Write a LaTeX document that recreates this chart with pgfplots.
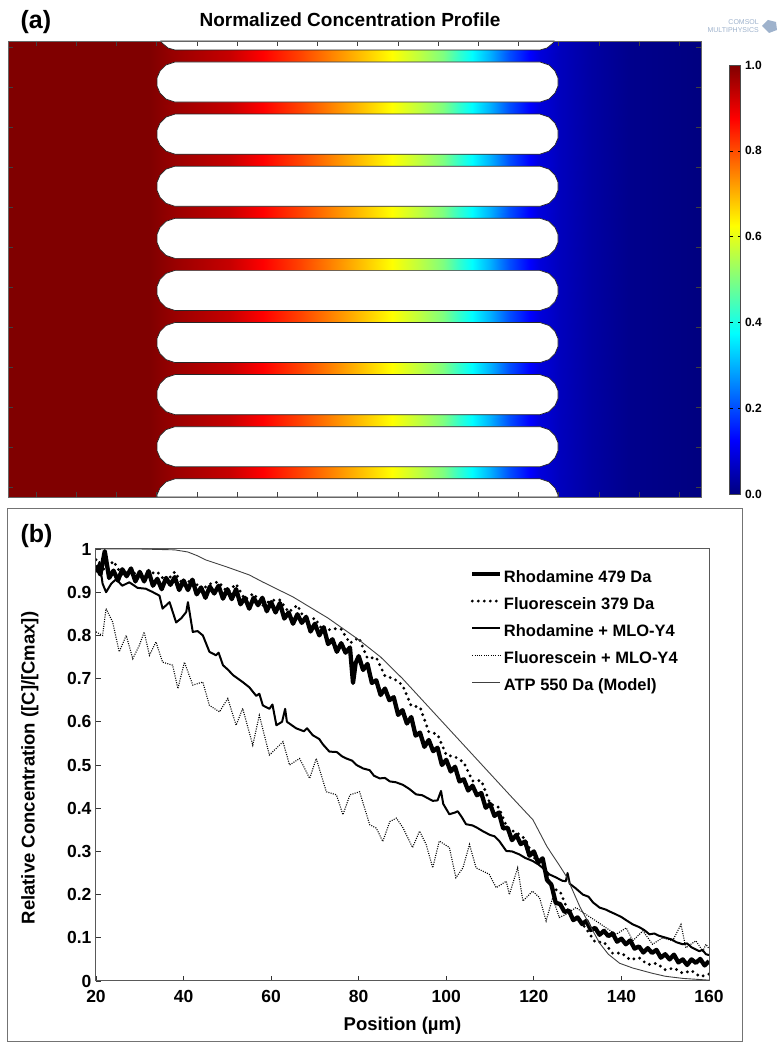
\documentclass[border=0pt]{standalone}
\usepackage{fontspec}
\setmainfont{Liberation Sans}
\usepackage{pgfplots}
\pgfplotsset{compat=1.18}
\definecolor{comsol}{rgb}{0.62,0.70,0.80}
\begin{document}
\begin{tikzpicture}[x=1pt,y=1pt]
\path[use as bounding box] (0,0) rectangle (784,1050);
% ---------- panel (a) ----------
\node[anchor=west,font=\bfseries\fontsize{25}{25}\selectfont] at (17,1028) {(a)};
\node[font=\bfseries\fontsize{19}{19}\selectfont] at (350,1030) {Normalized Concentration Profile};
\node[anchor=east,align=right,text=comsol,font=\fontsize{7}{7.5}\selectfont,inner sep=0pt] at (759,1024) {COMSOL\\MULTIPHYSICS};
\fill[comsol] (762,1024) -- (768,1030) -- (776,1028) -- (777,1020) -- (769,1017) -- cycle;
\begin{axis}[
  at={(8pt,553pt)}, anchor=south west, scale only axis,
  width=693pt, height=456pt,
  xmin=8, xmax=701, ymin=41, ymax=497, y dir=reverse,
  axis line style={draw=black!60, line width=0.8pt},
  xtick={36,76.2,...,680}, ytick={47,87,...,488},
  xticklabels={}, yticklabels={},
  tick align=inside, major tick length=5pt,
  tick style={black!75, line width=0.6pt},
  colormap/jet, point meta min=0, point meta max=1,
  axis on top,
  colorbar,
  colorbar style={
    at={(parent axis.south east)}, anchor=south west,
    xshift=20pt, yshift=3pt, scale only axis,
    width=11pt, height=429pt, y dir=normal,
    ytick={0,0.2,0.4,0.6,0.8,1},
    yticklabel style={font=\bfseries\fontsize{12}{12}\selectfont, xshift=1pt,
      /pgf/number format/.cd, fixed, fixed zerofill, precision=1, assume math mode=true},
    major tick length=3pt, tick style={black},
    axis line style={draw=black!70, line width=0.6pt},
  },
]
\addplot[patch, patch type=rectangle, shader=interp, point meta=explicit] coordinates {
(8,41) [1] (150,41) [1] (150,497) [1] (8,497) [1]
(150,41) [1] (175,41) [0.975] (175,497) [0.975] (150,497) [1]
(175,41) [0.975] (200,41) [0.955] (200,497) [0.955] (175,497) [0.975]
(200,41) [0.955] (230,41) [0.93] (230,497) [0.93] (200,497) [0.955]
(230,41) [0.93] (263,41) [0.875] (263,497) [0.875] (230,497) [0.93]
(263,41) [0.875] (300,41) [0.81] (300,497) [0.81] (263,497) [0.875]
(300,41) [0.81] (330,41) [0.75] (330,497) [0.75] (300,497) [0.81]
(330,41) [0.75] (360,41) [0.69] (360,497) [0.69] (330,497) [0.75]
(360,41) [0.69] (392,41) [0.625] (392,497) [0.625] (360,497) [0.69]
(392,41) [0.625] (420,41) [0.56] (420,497) [0.56] (392,497) [0.625]
(420,41) [0.56] (443,41) [0.5] (443,497) [0.5] (420,497) [0.56]
(443,41) [0.5] (458,41) [0.43] (458,497) [0.43] (443,497) [0.5]
(458,41) [0.43] (472,41) [0.375] (472,497) [0.375] (458,497) [0.43]
(472,41) [0.375] (490,41) [0.3] (490,497) [0.3] (472,497) [0.375]
(490,41) [0.3] (510,41) [0.2] (510,497) [0.2] (490,497) [0.3]
(510,41) [0.2] (530,41) [0.125] (530,497) [0.125] (510,497) [0.2]
(530,41) [0.125] (540,41) [0.09] (540,497) [0.09] (530,497) [0.125]
(540,41) [0.09] (560,41) [0.06] (560,497) [0.06] (540,497) [0.09]
(560,41) [0.06] (590,41) [0.035] (590,497) [0.035] (560,497) [0.06]
(590,41) [0.035] (630,41) [0.012] (630,497) [0.012] (590,497) [0.035]
(630,41) [0.012] (701,41) [0] (701,497) [0] (630,497) [0.012]
};
\pgfplotsset{boxstyle/.style={fill=white, draw=black!85, line width=0.7pt, line join=round}}
\addplot[boxstyle] coordinates {(160.6,41) (162,43) (168,48) (175,50) (540,50) (547,48) (553,43) (554.4,41)} --cycle;
\addplot[boxstyle] coordinates {(175,62) (166,65) (160,71) (157,78) (157,86.1) (160,93.1) (166,99.1) (175,102.1) (540,102.1) (549,99.1) (555,93.1) (558,86.1) (558,78) (555,71) (549,65) (540,62)} --cycle;
\addplot[boxstyle] coordinates {(175,114.1) (166,117.1) (160,123.1) (157,130.1) (157,138.2) (160,145.2) (166,151.2) (175,154.2) (540,154.2) (549,151.2) (555,145.2) (558,138.2) (558,130.1) (555,123.1) (549,117.1) (540,114.1)} --cycle;
\addplot[boxstyle] coordinates {(175,166.2) (166,169.2) (160,175.2) (157,182.2) (157,190.3) (160,197.3) (166,203.3) (175,206.3) (540,206.3) (549,203.3) (555,197.3) (558,190.3) (558,182.2) (555,175.2) (549,169.2) (540,166.2)} --cycle;
\addplot[boxstyle] coordinates {(175,218.3) (166,221.3) (160,227.3) (157,234.3) (157,242.4) (160,249.4) (166,255.4) (175,258.4) (540,258.4) (549,255.4) (555,249.4) (558,242.4) (558,234.3) (555,227.3) (549,221.3) (540,218.3)} --cycle;
\addplot[boxstyle] coordinates {(175,270.4) (166,273.4) (160,279.4) (157,286.4) (157,294.5) (160,301.5) (166,307.5) (175,310.5) (540,310.5) (549,307.5) (555,301.5) (558,294.5) (558,286.4) (555,279.4) (549,273.4) (540,270.4)} --cycle;
\addplot[boxstyle] coordinates {(175,322.5) (166,325.5) (160,331.5) (157,338.5) (157,346.6) (160,353.6) (166,359.6) (175,362.6) (540,362.6) (549,359.6) (555,353.6) (558,346.6) (558,338.5) (555,331.5) (549,325.5) (540,322.5)} --cycle;
\addplot[boxstyle] coordinates {(175,374.6) (166,377.6) (160,383.6) (157,390.6) (157,398.7) (160,405.7) (166,411.7) (175,414.7) (540,414.7) (549,411.7) (555,405.7) (558,398.7) (558,390.6) (555,383.6) (549,377.6) (540,374.6)} --cycle;
\addplot[boxstyle] coordinates {(175,426.7) (166,429.7) (160,435.7) (157,442.7) (157,450.8) (160,457.8) (166,463.8) (175,466.8) (540,466.8) (549,463.8) (555,457.8) (558,450.8) (558,442.7) (555,435.7) (549,429.7) (540,426.7)} --cycle;
\addplot[boxstyle] coordinates {(175,478.8) (166,481.8) (160,487.8) (157,494.8) (157,497) (558,497) (558,494.8) (555,487.8) (549,481.8) (540,478.8)} --cycle;
\end{axis}
% ---------- panel (b) ----------
\draw[black!55, line width=1pt] (7,8) rectangle (742,541);
\node[anchor=west,font=\bfseries\fontsize{25}{25}\selectfont] at (17,514) {(b)};
\begin{axis}[
  at={(96pt,69pt)}, anchor=south west, scale only axis,
  width=613pt, height=432pt,
  xmin=20, xmax=160, ymin=0, ymax=1,
  xtick={20,40,60,80,100,120,140,160},
  ytick={0,0.1,0.2,0.3,0.4,0.5,0.6,0.7,0.8,0.9,1},
  xtick pos=lower, ytick pos=left,
  tick align=inside, major tick length=5pt,
  tick style={black!80, line width=0.8pt},
  axis line style={draw=black!65, line width=1pt},
  tick label style={font=\bfseries\fontsize{17.5}{17.5}\selectfont},
  xticklabel style={yshift=-5.5pt},
  yticklabel style={xshift=-1pt},
  /pgf/number format/assume math mode=true,
  xlabel={Position (µm)},
  ylabel={Relative Concentration ([C]/[Cmax])},
  every axis x label/.style={at={(axis description cs:0.5,-0.104)}, anchor=center,
    font=\bfseries\fontsize{18.5}{18.5}\selectfont},
  every axis y label/.style={at={(axis description cs:-0.108,0.493)}, rotate=90, anchor=center,
    font=\bfseries\fontsize{18.5}{18.5}\selectfont},
  legend style={at={(0.61,0.951)}, anchor=north west, draw=none, fill=none,
    inner sep=0pt, row sep=11.5pt,
    font=\bfseries\fontsize{16.5}{16.5}\selectfont,
    nodes={inner ysep=0pt, inner xsep=1.5pt, text height=12pt, text depth=3.5pt}},
  legend cell align=left,
  legend image code/.code={\draw[#1] (0pt,4pt) -- (28pt,4pt);},
]
\addplot[black, line width=4.3pt, line join=round] coordinates {
(20,0.962) (21,0.941) (22,0.995) (23,0.933) (24,0.950) (25,0.927) (26,0.953) (27,0.937) (28,0.955) (29,0.925)
(30,0.947) (31,0.925) (32,0.949) (33,0.915) (34,0.931) (35,0.907) (36,0.933) (37,0.917) (38,0.935) (39,0.905)
(40,0.927) (41,0.905) (42,0.929) (43,0.895) (44,0.911) (45,0.887) (46,0.913) (47,0.897) (48,0.915) (49,0.885)
(50,0.907) (51,0.884) (52,0.907) (53,0.872) (54,0.887) (55,0.862) (56,0.887) (57,0.870) (58,0.887) (59,0.856)
(60,0.877) (61,0.853) (62,0.875) (63,0.839) (64,0.853) (65,0.827) (66,0.849) (67,0.829) (68,0.843) (69,0.809)
(70,0.827) (71,0.800) (72,0.819) (73,0.780) (74,0.791) (75,0.762) (76,0.782) (77,0.760) (78,0.772) (78.7,0.690)
(79.3,0.736) (80,0.752) (81,0.720) (82,0.734) (83,0.690) (84,0.696) (85,0.662) (86,0.677) (87,0.650) (88,0.657)
(89,0.616) (90,0.627) (91,0.596) (92,0.611) (93,0.568) (94,0.575) (95,0.542) (96,0.558) (97,0.532) (98,0.540)
(99,0.500) (100,0.512) (101,0.485) (102,0.496) (103,0.462) (104,0.467) (105,0.441) (106,0.452) (107,0.430) (108,0.435)
(109,0.401) (110,0.410) (111,0.382) (112,0.390) (113,0.353) (114,0.355) (115,0.326) (116,0.338) (117,0.317) (118,0.323)
(119,0.290) (120,0.300) (121,0.274) (122,0.284) (123,0.234) (124,0.223) (125,0.181) (126,0.178) (127,0.160) (128,0.163)
(129,0.141) (130,0.147) (131,0.132) (132,0.139) (133,0.118) (134,0.123) (135,0.107) (136,0.116) (137,0.104) (138,0.110)
(139,0.091) (140,0.098) (141,0.085) (142,0.094) (143,0.075) (144,0.080) (145,0.066) (146,0.076) (147,0.065) (148,0.072)
(149,0.054) (150,0.062) (151,0.050) (152,0.061) (153,0.043) (154,0.050) (155,0.037) (156,0.050) (157,0.042) (158,0.051)
(159,0.036) (160,0.046)
};
\addlegendentry{Rhodamine 479 Da}
\addplot[black, line width=3.2pt, line cap=round, dash pattern=on 0pt off 6pt] coordinates {
(20,0.975) (22,0.951) (24,0.972) (26,0.938) (28,0.954) (30,0.928) (32,0.942) (34,0.947) (36,0.924) (38,0.947)
(40,0.915) (42,0.931) (44,0.905) (46,0.919) (48,0.924) (50,0.900) (52,0.919) (54,0.883) (56,0.897) (58,0.869)
(60,0.881) (62,0.882) (64,0.854) (66,0.870) (68,0.830) (70,0.840) (72,0.808) (74,0.816) (76,0.814) (78,0.782)
(80,0.795) (82,0.747) (84,0.749) (86,0.706) (88,0.700) (90,0.685) (92,0.637) (94,0.634) (96,0.577) (98,0.571)
(100,0.523) (102,0.519) (104,0.506) (106,0.463) (108,0.464) (110,0.410) (112,0.402) (114,0.352) (116,0.344) (118,0.329)
(120,0.285) (122,0.278) (124,0.216) (126,0.207) (128,0.158) (130,0.146) (132,0.120) (134,0.090) (136,0.090) (138,0.064)
(140,0.065) (142,0.049) (144,0.054) (146,0.038) (148,0.041) (150,0.026) (152,0.030) (154,0.018) (156,0.024) (158,0.010)
(160,0.016)
};
\addlegendentry{Fluorescein 379 Da}
\addplot[black, line width=2pt, line join=round] coordinates {
(20,0.946) (20.8,0.970) (21.5,0.920) (22.3,0.900) (23.5,0.920) (24.6,0.930) (26,0.915) (27.6,0.923) (29.5,0.910) (31.4,0.908)
(33,0.900) (34.5,0.892) (35.2,0.862) (36.8,0.877) (38.3,0.830) (39.5,0.840) (40.6,0.854) (41,0.877) (42.1,0.808) (43.2,0.810)
(44.4,0.800) (45.9,0.762) (47.4,0.754) (48,0.760) (49,0.731) (50.2,0.720) (51.3,0.708) (52.4,0.700) (53.5,0.692) (55,0.680)
(56.6,0.660) (57.3,0.665) (58.1,0.638) (59.6,0.630) (60.3,0.640) (61.2,0.592) (62.5,0.600) (63.2,0.630) (63.6,0.600) (65.7,0.585)
(67.5,0.578) (68.2,0.585) (69.5,0.569) (71,0.560) (71.8,0.548) (73.3,0.531) (75,0.530) (76.2,0.520) (77.2,0.515) (78.5,0.510)
(79.5,0.500) (81,0.492) (82.5,0.488) (83.5,0.475) (84.8,0.469) (86,0.470) (87.1,0.462) (88.5,0.460) (90.1,0.454) (91.5,0.445)
(93.1,0.432) (94.5,0.430) (96.9,0.417) (98,0.418) (98.8,0.440) (99.3,0.410) (100.7,0.386) (102,0.390) (102.6,0.393) (103.5,0.380)
(104.5,0.363) (106,0.360) (107,0.355) (108.3,0.347) (110,0.338) (111,0.335) (112.1,0.324) (113.7,0.301) (115,0.300) (116.7,0.293)
(118,0.285) (119.7,0.278) (121,0.270) (122,0.262) (123.5,0.247) (125,0.240) (126.5,0.232) (127.3,0.231) (127.7,0.250) (128.2,0.225)
(129.5,0.215) (131.2,0.200) (132.5,0.195) (133.5,0.182) (135,0.170) (136.5,0.165) (137.5,0.160) (138.8,0.154) (140,0.148) (141.2,0.140)
(142.6,0.131) (144,0.125) (145.2,0.118) (146.4,0.108) (147.5,0.110) (148.5,0.105) (150.2,0.100) (151.5,0.096) (152.5,0.090) (154,0.085)
(155,0.087) (156,0.078) (157.8,0.069) (158.5,0.072) (159.3,0.062) (160,0.060)
};
\addlegendentry{Rhodamine + MLO-Y4}
\addplot[black, line width=1.1pt, dash pattern=on 1pt off 1.3pt] coordinates {
(20,0.808) (21.5,0.800) (22.3,0.862) (23.8,0.831) (25.3,0.762) (26.9,0.800) (28.4,0.746) (29.9,0.777) (31,0.808) (32.2,0.754)
(33.7,0.785) (35.2,0.738) (37.5,0.731) (38.7,0.677) (40.2,0.738) (42.1,0.685) (44.4,0.692) (45.9,0.638) (48.2,0.623) (50.1,0.654)
(52,0.592) (53.5,0.631) (55.8,0.546) (57.3,0.615) (59.6,0.523) (62.7,0.554) (64.2,0.500) (66.5,0.515) (68.8,0.469) (70.3,0.515)
(72.6,0.438) (74.9,0.431) (76.4,0.385) (78,0.431) (80.2,0.438) (82.5,0.362) (84,0.354) (85.5,0.323) (87.1,0.369) (88.6,0.377)
(90.1,0.355) (90.8,0.340) (92.3,0.309) (93.9,0.347) (95.4,0.316) (96.9,0.262) (98.4,0.324) (100.7,0.309) (102.2,0.239) (103.8,0.262)
(105.3,0.316) (106.8,0.262) (109.8,0.247) (111.4,0.216) (113.7,0.231) (114.4,0.200) (116.3,0.262) (117.5,0.185) (119.7,0.208) (121.3,0.193)
(122.8,0.139) (124.3,0.193) (125.8,0.147) (127.3,0.154) (129.6,0.170) (131.9,0.154) (134.2,0.139) (136.5,0.123) (138.8,0.108) (141.1,0.123)
(142.6,0.093) (144.9,0.116) (147.1,0.085) (149.4,0.100) (151.7,0.093) (153.6,0.131) (154.7,0.077) (157,0.093) (158.6,0.069) (159.3,0.085)
(160,0.075)
};
\addlegendentry{Fluorescein + MLO-Y4}
\addplot[black!75, line width=0.9pt] coordinates {
(20,1.0) (30,1.0) (38,0.998) (41,0.993) (43,0.985) (45,0.975) (50,0.958) (55,0.940) (58,0.924) (65,0.889)
(73,0.840) (80,0.790) (85,0.750) (90,0.700) (95,0.645) (100,0.590) (105,0.535) (110,0.480) (115,0.425) (119.8,0.373)
(123,0.311) (126,0.265) (127.5,0.241) (130.5,0.172) (133,0.125) (135,0.088) (137,0.062) (139.6,0.041) (142.6,0.030) (147,0.018)
(150,0.011) (154,0.006) (160,0.002)
};
\addlegendentry{ATP 550 Da (Model)}
\end{axis}
\end{tikzpicture}
\end{document}
